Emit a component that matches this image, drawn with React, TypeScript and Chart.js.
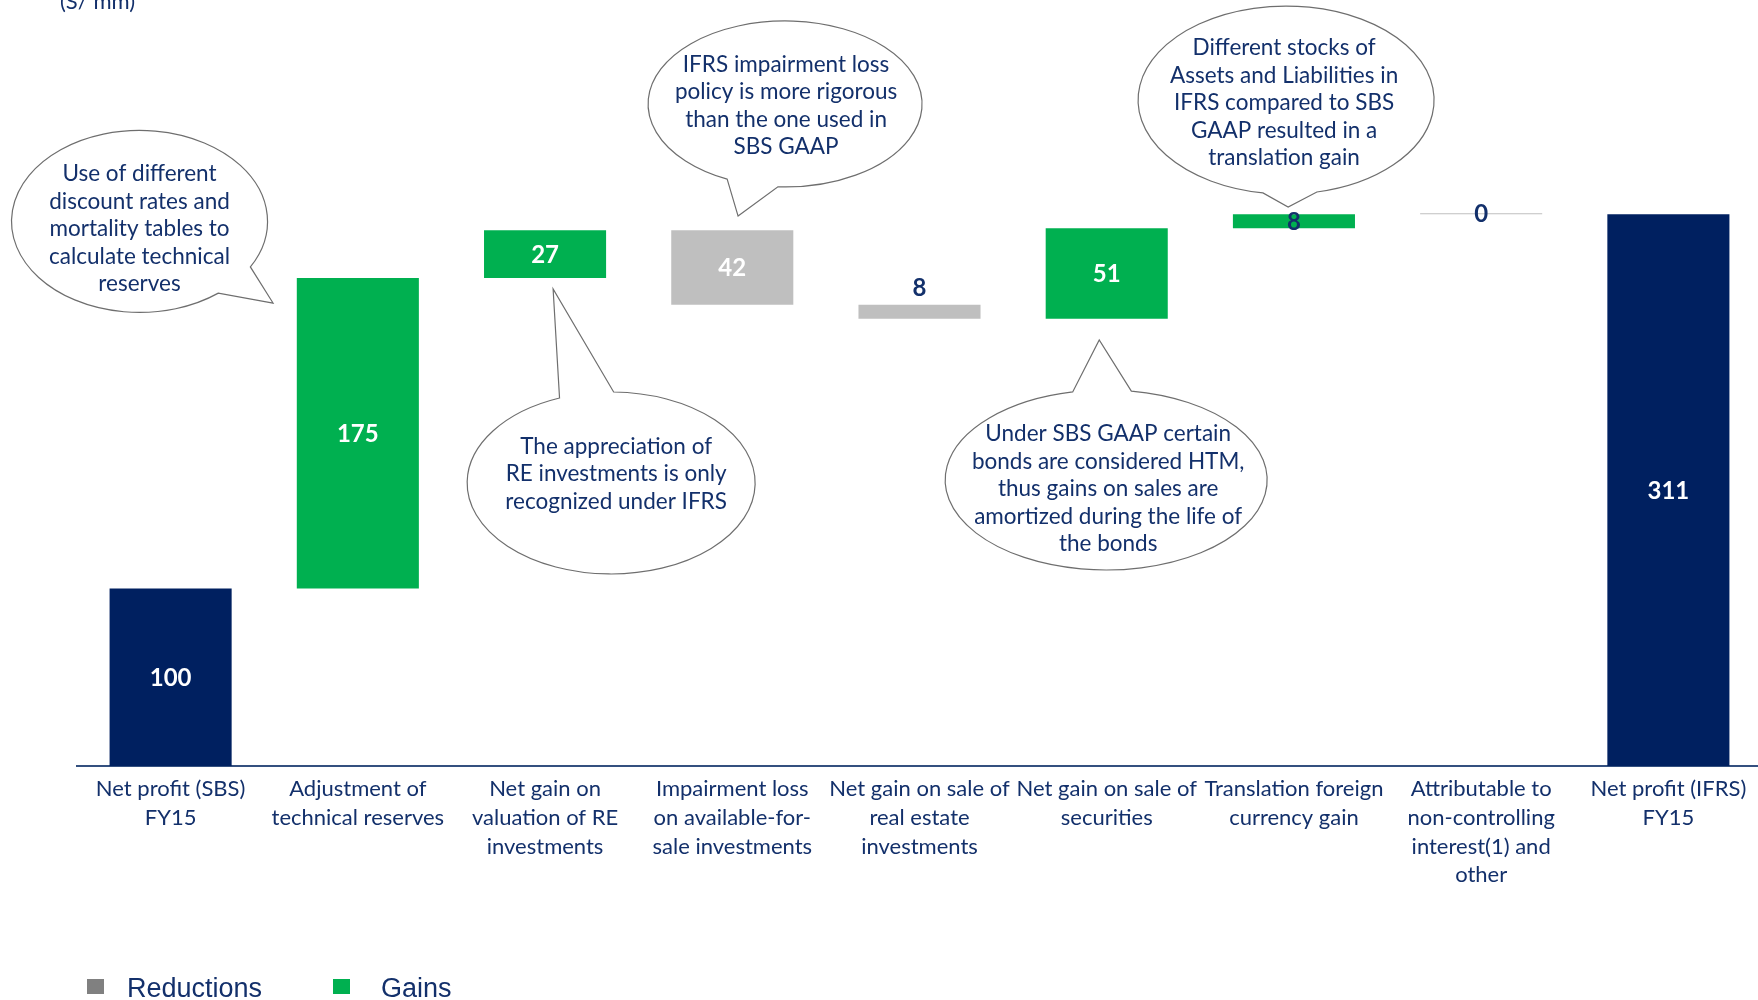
import React, { useEffect, useRef } from 'react';
import { Chart, registerables } from 'chart.js';

Chart.register(...registerables);

// ---------- data ----------
const unitLabel = '(S/ mm)';

const categories: string[][] = [
  ['Net profit (SBS)', 'FY15'],
  ['Adjustment of', 'technical reserves'],
  ['Net gain on', 'valuation of RE', 'investments'],
  ['Impairment loss', 'on available-for-', 'sale investments'],
  ['Net gain on sale of', 'real estate', 'investments'],
  ['Net gain on sale of', 'securities'],
  ['Translation foreign', 'currency gain'],
  ['Attributable to', 'non-controlling', 'interest(1) and', 'other'],
  ['Net profit (IFRS)', 'FY15'],
];

const changes: number[] = [100, 175, 27, -42, -8, 51, 8, 0, 311];
const kinds: string[] = ['total', 'gain', 'gain', 'reduction', 'reduction', 'gain', 'gain', 'reduction', 'total'];

const legendLabels: string[] = ['Reductions', 'Gains'];

const calloutTexts: string[][] = [
  ['Use of different', 'discount rates and', 'mortality tables to', 'calculate technical', 'reserves'],
  ['IFRS impairment loss', 'policy is more rigorous', 'than the one used in', 'SBS GAAP'],
  ['Different stocks of', 'Assets and Liabilities in', 'IFRS compared to SBS', 'GAAP resulted in a', 'translation gain'],
  ['The appreciation of', 'RE investments is only', 'recognized under IFRS'],
  ['Under SBS GAAP certain', 'bonds are considered HTM,', 'thus gains on sales are', 'amortized during the life of', 'the bonds'],
];

// ---------- layout / style ----------
// callout anchor positions expressed in scale units: [category index, value]
const calloutLayout = [
  { center: [-0.166, 306.9], tip: [0.547, 260.9], rx: 128, ry: 91, arc: [30, 52], text: [0, 7.5] },
  { center: [3.282, 373.1], tip: [3.031, 309.9], rx: 137, ry: 83, arc: [93, 115], text: [1, 2] },
  { center: [5.958, 375.3], tip: [5.969, 315.0], rx: 148, ry: 94, arc: [78, 99], text: [-2, 3] },
  { center: [2.353, 159.5], tip: [2.043, 268.8], rx: 144, ry: 91, arc: [-111, -89], text: [5, -9] },
  { center: [4.997, 161.2], tip: [4.96, 240.1], rx: 161, ry: 90, arc: [-102, -81], text: [2, 9] },
];

const NAVY = '#002060';
const GREEN = '#00B050';
const LIGHT_GRAY = '#BFBFBF';
const TEXT_NAVY = '#13306B';
const legendColors = ['#808080', GREEN];
const FONT = 'Lato, "Open Sans", sans-serif';

// waterfall ranges computed from the changes
const ranges: ([number, number] | null)[] = (() => {
  let run = 0;
  return changes.map((c, i) => {
    if (kinds[i] === 'total') {
      run = c;
      return [0, c] as [number, number];
    }
    const r: [number, number] = [run, run + c];
    run += c;
    return r;
  });
})();

const pick = (kind: string) => ranges.map((r, i) => (kinds[i] === kind ? r : null));

const labelsPlugin = {
  id: 'wfLabels',
  afterDatasetsDraw(chart: any) {
    const ctx = chart.ctx;
    ctx.save();
    ctx.font = `bold 24px ${FONT}`;
    ctx.textAlign = 'center';
    ctx.textBaseline = 'middle';
    chart.data.datasets.forEach((ds: any, di: number) => {
      const meta = chart.getDatasetMeta(di);
      meta.data.forEach((el: any, i: number) => {
        if (ds.data[i] == null) return;
        const { x, y, base } = el.getProps(['x', 'y', 'base'], true);
        const top = Math.min(y, base);
        const bottom = Math.max(y, base);
        const h = bottom - top;
        let ty = (top + bottom) / 2;
        let color = '#FFFFFF';
        if (h < 30) {
          color = TEXT_NAVY;
          if (kinds[i] === 'reduction' && h > 2) ty = top - 17;
        }
        ctx.fillStyle = color;
        ctx.fillText(String(Math.abs(changes[i])), x, ty + 1);
      });
    });
    ctx.restore();
  },
};

const decorPlugin = {
  id: 'decor',
  afterDraw(chart: any) {
    const ctx = chart.ctx;
    const xs = chart.scales.x;
    const ys = chart.scales.y;
    const step = xs.getPixelForValue(1) - xs.getPixelForValue(0);
    const px = (i: number) => xs.getPixelForValue(0) + i * step;
    const py = (v: number) => ys.getPixelForValue(v);

    // unit label
    ctx.save();
    ctx.font = `22px ${FONT}`;
    ctx.fillStyle = TEXT_NAVY;
    ctx.textAlign = 'left';
    ctx.textBaseline = 'alphabetic';
    ctx.fillText(unitLabel, 60, 9);
    ctx.restore();

    // callouts
    calloutLayout.forEach((c, k) => {
      const cx = px(c.center[0]);
      const cy = py(c.center[1]);
      const tx = px(c.tip[0]);
      const ty = py(c.tip[1]);
      const a1 = (c.arc[0] * Math.PI) / 180;
      const a2 = (c.arc[1] * Math.PI) / 180;
      ctx.save();
      ctx.beginPath();
      ctx.ellipse(cx, cy, c.rx, c.ry, 0, a2, a1 + Math.PI * 2, false);
      ctx.lineTo(tx, ty);
      ctx.closePath();
      ctx.fillStyle = '#FFFFFF';
      ctx.fill();
      ctx.strokeStyle = '#6E6E6E';
      ctx.lineWidth = 1.2;
      ctx.stroke();
      const lines = calloutTexts[k];
      const lh = 27.5;
      ctx.font = `22.5px ${FONT}`;
      ctx.fillStyle = TEXT_NAVY;
      ctx.textAlign = 'center';
      ctx.textBaseline = 'middle';
      const startY = cy - ((lines.length - 1) * lh) / 2 + c.text[1];
      lines.forEach((ln, j) => ctx.fillText(ln, cx + c.text[0], startY + j * lh));
      ctx.restore();
    });

    // legend
    ctx.save();
    ctx.font = `27px "Liberation Sans", Arial, sans-serif`;
    ctx.textBaseline = 'alphabetic';
    ctx.textAlign = 'left';
    const lx = [87, 333];
    const tx = [127, 381];
    legendLabels.forEach((lab, k) => {
      ctx.fillStyle = legendColors[k];
      ctx.fillRect(lx[k], 979, 17, 15);
      ctx.fillStyle = TEXT_NAVY;
      ctx.fillText(lab, tx[k], 997);
    });
    ctx.restore();
  },
};

export default function App() {
  const ref = useRef<HTMLCanvasElement | null>(null);

  useEffect(() => {
    if (!ref.current) return;
    const common = { grouped: false, barPercentage: 0.652, categoryPercentage: 1, borderWidth: 0 };
    const chart = new Chart(ref.current, {
      type: 'bar',
      data: {
        labels: categories,
        datasets: [
          { label: 'Totals', data: pick('total') as any, backgroundColor: NAVY, ...common },
          { label: 'Gains', data: pick('gain') as any, backgroundColor: GREEN, ...common },
          { label: 'Reductions', data: pick('reduction') as any, backgroundColor: LIGHT_GRAY, minBarLength: 1, ...common },
        ],
      },
      options: {
        responsive: false,
        animation: false,
        layout: { padding: { left: 77, right: 0, top: 3, bottom: 0 } },
        plugins: { legend: { display: false }, tooltip: { enabled: false } },
        scales: {
          x: {
            grid: { display: false },
            border: { display: true, color: '#34507F', width: 2 },
            ticks: {
              color: TEXT_NAVY,
              font: { family: FONT, size: 22, lineHeight: 1.3 },
              padding: 1,
              maxRotation: 0,
              autoSkip: false,
            },
            afterFit: (scale: any) => {
              scale.height = 234;
            },
          },
          y: {
            display: false,
            min: 0,
            max: 430,
          },
        },
      },
      plugins: [labelsPlugin, decorPlugin],
    } as any);
    return () => chart.destroy();
  }, []);

  return (
    <div style={{ position: 'fixed', left: 0, top: 0, width: '1758px', height: '1000px', overflow: 'hidden', background: '#fff' }}>
      <canvas ref={ref} width={1762} height={1000} style={{ display: 'block' }} />
    </div>
  );
}
